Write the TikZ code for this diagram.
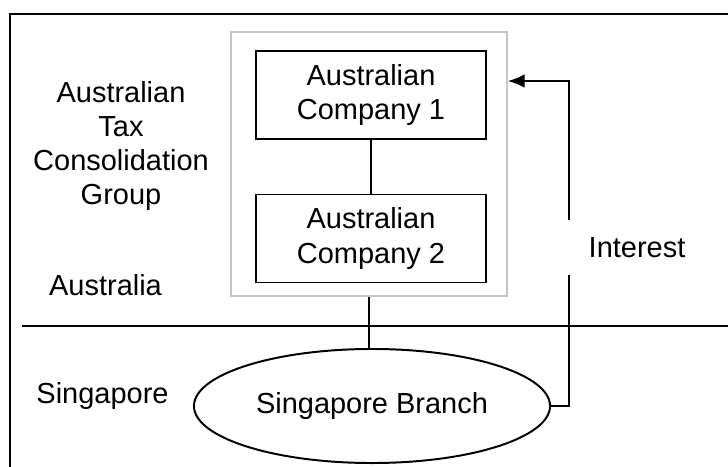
\documentclass[tikz,border=0pt]{standalone}
\usepackage{fontspec}
\setmainfont{Liberation Sans}
\usepackage{tikz}
\usetikzlibrary{shapes.geometric,arrows.meta}

\begin{document}
\begin{tikzpicture}[x=0.025cm,y=-0.025cm,font=\fontsize{20.6}{24.2}\selectfont]
            \tikzstyle{company}=[draw,line width=1.4pt,minimum width=5.75cm,minimum height=2.2cm,align=center];
            \tikzstyle{place}=[anchor=base];
            % Fix the page to the size of the picture
            \useasboundingbox (0,0) rectangle (728,466);
            \clip (0,0) rectangle (728,466);

            % Outer frame, running off the page on the right and at the bottom
            \draw[line width=1.5pt] (10,14) rectangle (760,500);

            % Border between the two countries
            \coordinate (L) at (22,326);
            \coordinate (R) at (740,326);
            \draw[line width=1.2pt] (L) -- (R);

            % The consolidation group
            \node[draw=gray!45,line width=1.2pt,minimum width=6.9cm,minimum height=6.6cm] (group) at (369,164) {};
            \node[company] (comp1) at (371,95) {Australian\\Company 1};
            \node[company] (comp2) at (371,238.5) {Australian\\Company 2};
            \draw[line width=1pt] (comp1.south) -- (comp2.north);

            % The branch in Singapore
            \node[draw,ellipse,line width=1.4pt,inner sep=0pt,minimum width=8.9cm,minimum height=2.85cm] (branch) at (372,406) {Singapore Branch};
            \draw[line width=1pt] (group.south) -- (group.south |- branch.north);

            % Interest paid back to the first company
            \coordinate (turn) at (569,81);
            \draw[line width=1.2pt,-{Latex[length=0.42cm,width=0.34cm]}] (branch.east) -| (turn) -- (turn -| group.east);
            \node[place,fill=white,inner xsep=0.55cm,minimum height=1.375cm] (interest) at (637,257) {Interest};

            % Names of the regions
            \node[align=center] (tcg) at (121,146) {Australian\\Tax\\Consolidation\\Group};
            \node[place] (aus) at (105.5,295) {Australia};
            \node[place] (sgp) at (102.5,403) {Singapore};
        \end{tikzpicture}
\end{document}
